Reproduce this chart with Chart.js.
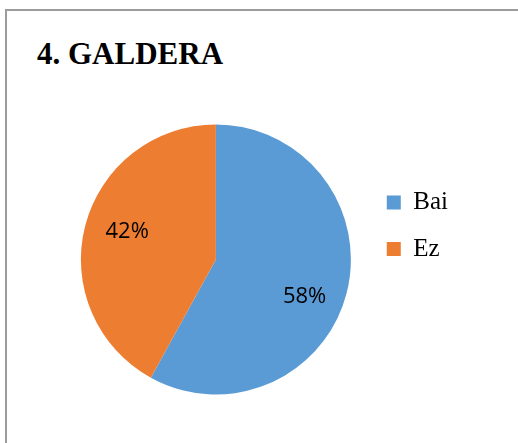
<!DOCTYPE html>
<html>
<head>
<meta charset="utf-8">
<script src="https://cdn.jsdelivr.net/npm/chart.js@4.4.0/dist/chart.umd.min.js"></script>
<style>
  html, body { margin: 0; padding: 0; background: #fff; overflow: hidden; }
  #wrap { position: relative; width: 518px; height: 443px; }
  #marco { position: absolute; left: 5px; top: 9px; width: 600px; height: 500px; border: 2px solid #9c9c9c; }
  #titulo { position: absolute; left: 37px; top: 38px; font: bold 31px/31px "Liberation Serif", "Times New Roman", serif; color: #000; white-space: nowrap; }
  canvas { position: absolute; left: 0; top: 0; }
</style>
</head>
<body>
<div id="wrap">
  <div id="marco"></div>
  <div id="titulo">4. GALDERA</div>
  <canvas id="myChart" width="518" height="443"></canvas>
</div>
<script>
// datos del grafico
const etiquetas = ["Bai", "Ez"];
const valores = [58, 42];
const colores = ["#5B9BD5", "#ED7D31"];

// plugin para escribir el porcentaje dentro de cada trozo
const porcentajes = {
  id: "porcentajes",
  afterDatasetsDraw(chart) {
    const ctx = chart.ctx;
    const meta = chart.getDatasetMeta(0);
    const total = valores.reduce((a, b) => a + b, 0);
    ctx.save();
    ctx.font = '22px "Open Sans", sans-serif';
    ctx.fillStyle = "#000";
    ctx.textAlign = "center";
    ctx.textBaseline = "middle";
    meta.data.forEach((arc, i) => {
      const p = arc.getProps(["x", "y", "startAngle", "endAngle", "outerRadius"], true);
      const medio = (p.startAngle + p.endAngle) / 2 + 0.1;
      const r = p.outerRadius * 0.7;
      const texto = Math.round(valores[i] / total * 100) + "%";
      ctx.fillText(texto, p.x + Math.cos(medio) * r, p.y + Math.sin(medio) * r + 5);
    });
    ctx.restore();
  }
};

const config = {
  type: "pie",
  data: {
    labels: etiquetas,
    datasets: [{
      data: valores,
      backgroundColor: colores,
      borderWidth: 0
    }]
  },
  options: {
    responsive: false,
    animation: false,
    layout: { padding: { top: 124.5, bottom: 48.5, left: 66.5, right: 60 } },
    plugins: {
      tooltip: { enabled: false },
      legend: {
        position: "right",
        align: "start",
        title: { display: true, text: "", font: { size: 10, lineHeight: 1 }, padding: { top: 34, bottom: 0 } },
        labels: {
          boxWidth: 14,
          boxHeight: 14,
          padding: 21.5,
          color: "#000",
          font: { family: '"Liberation Serif", "Times New Roman", serif', size: 25 }
        }
      }
    }
  },
  plugins: [porcentajes]
};

const myChart = new Chart(document.getElementById("myChart"), config);
</script>
</body>
</html>
